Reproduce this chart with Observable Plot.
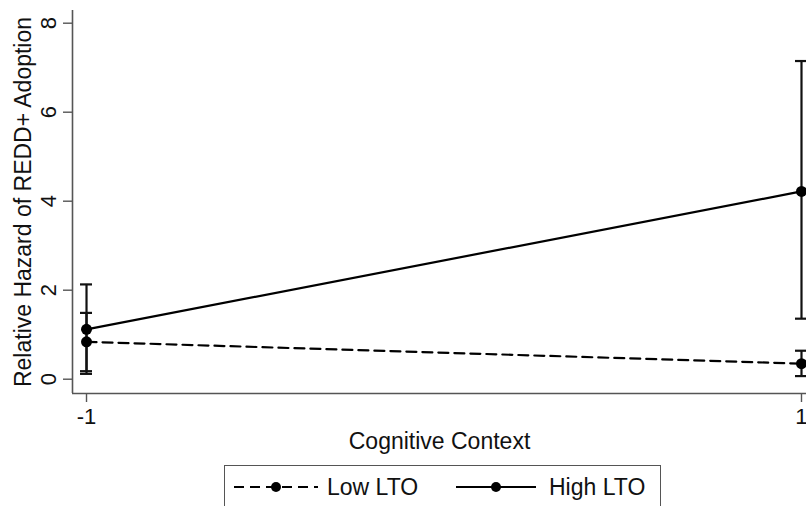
<!DOCTYPE html>
<html><head><meta charset="utf-8">
<script src="https://cdn.jsdelivr.net/npm/d3@7"></script>
<script src="https://cdn.jsdelivr.net/npm/@observablehq/plot@0.6"></script>
<style>
html,body{margin:0;padding:0;background:#fff;overflow:hidden;width:806px;height:506px;}
body{font-family:"Liberation Sans",Arial,sans-serif;position:relative;}
#legend{position:absolute;left:224px;top:465px;width:437px;height:52px;border:1px solid #555;box-sizing:border-box;background:#fff;}
#legend .item{position:absolute;top:0;height:42px;display:flex;align-items:center;font-size:23px;color:#111;}
#legend svg{display:block;}
</style></head><body><div id="chart"></div><div id="legend"></div>
<script>
// ---- data ----
const contextValues = [-1, 1];
const seriesNames = ["Low LTO", "High LTO"];
const lowEstimate = [0.84, 0.35];
const lowLower = [0.18, 0.07];
const lowUpper = [1.49, 0.64];
const highEstimate = [1.12, 4.22];
const highLower = [0.12, 1.36];
const highUpper = [2.13, 7.15];
const xTicks = [-1, 1];
const xTickLabels = ["-1", "1"];
const yTicks = [0, 2, 4, 6, 8];
const xTitle = "Cognitive Context";
const yTitle = "Relative Hazard of REDD+ Adoption";

const rows = [];
contextValues.forEach((c, i) => {
  rows.push({series: seriesNames[0], x: c, y: lowEstimate[i], lo: lowLower[i], hi: lowUpper[i]});
  rows.push({series: seriesNames[1], x: c, y: highEstimate[i], lo: highLower[i], hi: highUpper[i]});
});
const lowRows = rows.filter(d => d.series === seriesNames[0]);
const highRows = rows.filter(d => d.series === seriesNames[1]);

const xDomain = [-1.0392, 1.014];
const yDomain = [-0.3213, 8.2854];
const axisColor = "#555";

const chart = Plot.plot({
  width: 806,
  height: 458,
  marginLeft: 72,
  marginRight: 0,
  marginTop: 10,
  marginBottom: 65,
  style: {fontFamily: "'Liberation Sans', Arial, sans-serif", fontSize: "22px", color: "#111", background: "#fff", overflow: "visible"},
  x: {domain: xDomain},
  y: {domain: yDomain},
  marks: [
    Plot.ruleX([xDomain[0]], {stroke: axisColor, strokeWidth: 1.6}),
    Plot.ruleY([yDomain[0]], {stroke: axisColor, strokeWidth: 1.6}),
    Plot.axisX({ticks: xTicks, tickFormat: d => xTickLabels[xTicks.indexOf(d)], tickSize: 9, tickPadding: 6, fontSize: 22, label: null, stroke: axisColor, strokeWidth: 1.4, color: "#111"}),
    Plot.axisY({ticks: yTicks, tickFormat: d => String(d), tickSize: 9, tickPadding: 8, tickRotate: -90, fontSize: 22, label: null, stroke: axisColor, strokeWidth: 1.4, color: "#111"}),
    Plot.text([xTitle], {frameAnchor: "bottom", textAnchor: "middle", lineAnchor: "bottom", dy: 55, fontSize: 23, fill: "#111"}),
    Plot.text([yTitle], {frameAnchor: "left", textAnchor: "middle", rotate: -90, lineAnchor: "bottom", dx: -42, fontSize: 23, fill: "#111"}),
    Plot.line(lowRows, {x: "x", y: "y", stroke: "#000", strokeWidth: 2.2, strokeDasharray: "10,6"}),
    Plot.line(highRows, {x: "x", y: "y", stroke: "#000", strokeWidth: 2.2}),
    Plot.ruleX(rows, {x: "x", y1: "lo", y2: "hi", stroke: "#111", strokeWidth: 2.2}),
    Plot.ruleY(rows, {y: "lo", x1: "x", x2: "x", insetLeft: -6, insetRight: -6, stroke: "#111", strokeWidth: 2.2}),
    Plot.ruleY(rows, {y: "hi", x1: "x", x2: "x", insetLeft: -6, insetRight: -6, stroke: "#111", strokeWidth: 2.2}),
    Plot.dot(rows, {x: "x", y: "y", r: 5.5, fill: "#000", stroke: "none"})
  ]
});
document.getElementById("chart").appendChild(chart);

// legend (HTML, below the SVG)
const legend = document.getElementById("legend");
const legendItems = [
  {name: seriesNames[0], dash: "10,6", left: 9, swatch: 84, textLeft: 102},
  {name: seriesNames[1], dash: null, left: 231, swatch: 80, textLeft: 324}
];
legendItems.forEach(it => {
  const sw = document.createElement("div");
  sw.className = "item";
  sw.style.left = it.left + "px";
  const w = it.swatch;
  sw.innerHTML = `<svg width="${w}" height="20"><line x1="0" x2="${w}" y1="10" y2="10" stroke="#000" stroke-width="2" ${it.dash ? `stroke-dasharray="${it.dash}"` : ""}/><circle cx="${w/2}" cy="10" r="5" fill="#000"/></svg>`;
  legend.appendChild(sw);
  const tx = document.createElement("div");
  tx.className = "item";
  tx.style.left = it.textLeft + "px";
  tx.textContent = it.name;
  legend.appendChild(tx);
});
</script></body></html>
